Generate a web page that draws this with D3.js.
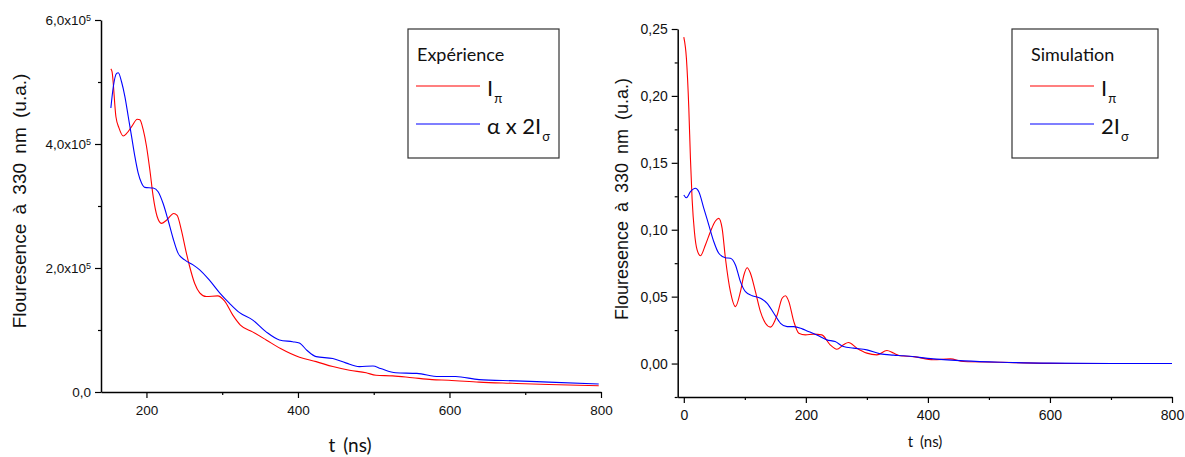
<!doctype html>
<html>
<head>
<meta charset="utf-8">
<script src="https://cdnjs.cloudflare.com/ajax/libs/d3/7.8.5/d3.min.js"></script>
<style>
  body { margin: 0; background: #fff; }
  svg { display: block; }
  .tick text { font-family: "Liberation Sans", Arial, sans-serif; fill: #111; }
  .title { font-family: Lato, "DejaVu Sans", sans-serif; fill: #111; }
  .ytitle { font-family: "Liberation Sans", Arial, sans-serif; fill: #111; }
</style>
</head>
<body>
<svg id="chart" width="1185" height="457"></svg>
<script>
// Expérience (values in units of 1e5), [t (ns), value]
var expPi = [[153,5.21],[154.5,5.17],[159.7,4.44],[163.7,4.26],[169.4,4.13],[173.8,4.17],[180.4,4.28],
  [187.9,4.40],[191.3,4.39],[195.7,4.23],[200.1,3.96],[204.5,3.58],[208.9,3.15],[214.1,2.83],
  [219.8,2.72],[226.4,2.77],[236,2.88],[240.5,2.85],[246.1,2.61],[251.8,2.29],[257.1,2.02],
  [263.7,1.75],[270.3,1.60],[279,1.54],[294,1.55],[303,1.47],[314,1.24],[324,1.08],[340,0.97],
  [358,0.84],[377,0.70],[402,0.56],[424,0.49],[446,0.41],[468,0.35],[490,0.31],[503,0.27],
  [525,0.26],[551,0.23],[577,0.20],[599,0.19],[639,0.16],[683,0.14],[731,0.12],[797,0.10]];
var expSigma = [[153,4.58],[156.2,4.92],[160.6,5.14],[162.8,5.15],[167.2,5.0],[171.6,4.76],[176,4.44],
  [180.4,4.12],[184.7,3.80],[189.1,3.53],[193.5,3.37],[197.9,3.30],[208.9,3.29],[215.4,3.23],
  [222,3.04],[228.6,2.77],[235.1,2.48],[241.7,2.24],[250.5,2.13],[261.5,2.05],[270.3,1.97],
  [283.4,1.80],[296.6,1.60],[309.7,1.43],[322.9,1.28],[340.4,1.16],[358,0.97],[375.5,0.84],
  [393,0.81],[401.8,0.79],[412,0.67],[424,0.57],[446,0.54],[463,0.47],[481,0.41],[499,0.42],
  [509,0.38],[529,0.31],[557,0.30],[586,0.25],[608,0.25],[639,0.20],[687,0.18],[731,0.16],[797,0.13]];

// Simulation, [t (ns), value]
var simPi = [[0,0.244],[4.3,0.228],[8.2,0.191],[10.9,0.153],[13.6,0.123],[17.4,0.0985],[21.8,0.0849],
  [27.3,0.0806],[35.4,0.0886],[43.6,0.0985],[51.8,0.1065],[57.3,0.1085],[62.8,0.101],[68.2,0.0787],
  [76.4,0.0537],[84.6,0.0425],[92.8,0.0537],[98.4,0.066],[103.8,0.0716],[109.2,0.0675],[117.4,0.0537],
  [125.6,0.0388],[133.8,0.0301],[142,0.0272],[153,0.0363],[161.1,0.0488],[166.6,0.0507],[172.1,0.0463],
  [180.3,0.0313],[188.5,0.0227],[199.3,0.0214],[212.5,0.022],[226.2,0.0214],[239.8,0.014],[250.8,0.0107],
  [261.6,0.014],[269.8,0.0157],[283.6,0.0115],[300,0.0078],[316.4,0.0065],[332.8,0.0097],[343.6,0.0078],
  [354.6,0.0058],[376.4,0.0052],[409,0.0028],[436.6,0.0035],[458.4,0.0015],[518.5,0.001],[573,0.0003],
  [628,0.0],[700,0.0],[800,0.0]];
var simSigma = [[0,0.126],[4.3,0.1239],[10.9,0.1284],[19,0.131],[24.6,0.1284],[32.8,0.116],[41,0.1035],
  [49.2,0.091],[57.3,0.0824],[68.2,0.0791],[76.4,0.0787],[84.6,0.0737],[92.8,0.0612],[101,0.0537],
  [112,0.0507],[125.6,0.0488],[136.6,0.045],[147.5,0.0376],[158.5,0.0301],[169.3,0.0276],[180.3,0.0276],
  [194,0.0259],[202.1,0.0244],[218,0.0214],[234.4,0.0177],[248,0.0164],[261.6,0.0127],[278,0.0115],
  [300,0.0102],[322,0.0072],[343.6,0.0063],[360,0.0058],[409,0.0035],[460,0.002],[520,0.001],
  [600,0.0003],[700,0.0],[800,0.0]];

var leftYTicks = [0, 2, 4, 6];
var leftYMinor = [1, 3, 5];
var leftXTicks = [200, 400, 600, 800];
var leftXMinor = [300, 500, 700];
var rightYTicks = [0, 0.05, 0.10, 0.15, 0.20, 0.25];
var rightYMinor = [-0.025, 0.025, 0.075, 0.125, 0.175, 0.225];
var rightXTicks = [0, 200, 400, 600, 800];
var rightXMinor = [100, 300, 500, 700];

var svg = d3.select("#chart");

function drawPanel(o) {
  var x = d3.scaleLinear().domain(o.xDomain).range(o.xRange);
  var y = d3.scaleLinear().domain(o.yDomain).range(o.yRange);
  var g = svg.append("g");

  // minor ticks first, then major with labels
  g.append("g").attr("transform", "translate(0," + o.yRange[0] + ")")
    .call(d3.axisBottom(x).tickValues(o.xMinor).tickSize(3).tickFormat(""))
    .call(a => a.select(".domain").remove());
  g.append("g").attr("transform", "translate(" + o.xRange[0] + ",0)")
    .call(d3.axisLeft(y).tickValues(o.yMinor).tickSize(3).tickFormat(""))
    .call(a => a.select(".domain").remove());

  var xa = g.append("g").attr("transform", "translate(0," + o.yRange[0] + ")")
    .call(d3.axisBottom(x).tickValues(o.xTicks).tickSize(6).tickSizeOuter(0).tickPadding(7));
  xa.selectAll("text").style("font-size", o.tickFont + "px");
  var ya = g.append("g").attr("transform", "translate(" + o.xRange[0] + ",0)")
    .call(d3.axisLeft(y).tickValues(o.yTicks).tickSize(6).tickSizeOuter(0).tickPadding(4).tickFormat(o.yFormat));
  ya.selectAll("text").style("font-size", o.tickFont + "px");
  if (o.yHtml) {
    ya.selectAll(".tick text").each(function(d) {
      var t = d3.select(this);
      if (d === 0) { t.text("0,0"); return; }
      t.text("");
      t.append("tspan").text(d3.format(".1f")(d).replace(".", ",") + "x10");
      t.append("tspan").attr("dy", "-0.45em").style("font-size", "9px").text("5");
    });
  }
  g.selectAll(".domain").attr("stroke", "#000").attr("stroke-width", 1.5);
  g.selectAll(".tick line").attr("stroke", "#000").attr("stroke-width", 1.2);

  var line = d3.line().x(d => x(d[0])).y(d => y(d[1])).curve(d3.curveMonotoneX);
  o.series.forEach(s => {
    g.append("path").datum(s.data).attr("d", line)
      .attr("fill", "none").attr("stroke", s.color).attr("stroke-width", 1.1);
  });

  // axis titles
  g.append("text").attr("class", "ytitle")
    .attr("transform", "translate(" + o.yTitleX + "," + o.yTitleY + ") rotate(-90)")
    .attr("text-anchor", "middle").style("font-size", o.yTitleFont + "px")
    .style("word-spacing", "4px")
    .text("Flouresence à 330 nm (u.a.)");
  g.append("text").attr("class", "title")
    .attr("x", o.xTitleX).attr("y", o.xTitleY)
    .attr("text-anchor", "middle").style("font-size", o.xTitleFont + "px")
    .style("word-spacing", "3px")
    .text("t (ns)");

  // legend
  var L = o.legend;
  g.append("rect").attr("x", L.x).attr("y", L.y).attr("width", L.w).attr("height", L.h)
    .attr("fill", "#fff").attr("stroke", "#333").attr("stroke-width", 1.2);
  g.append("text").attr("class", "title").attr("x", L.titleX).attr("y", L.y + 32)
    .style("font-size", "18px").text(L.title);
  o.series.forEach((s, i) => {
    var ly = L.y + 57 + i * 38;
    g.append("line").attr("x1", L.lineX).attr("x2", L.lineX + 64)
      .attr("y1", ly).attr("y2", ly).attr("stroke", s.color).attr("stroke-width", 1.2);
    var t = g.append("text").attr("class", "title").attr("x", L.lineX + 71).attr("y", ly + 10)
      .style("font-size", "22px");
    t.append("tspan").text(s.label);
    t.append("tspan").attr("dy", "0.55em").attr("dx", "1").style("font-size", "13px").text(s.sub);
  });
}

drawPanel({
  xDomain: [140, 800], xRange: [101, 601],
  yDomain: [0, 6], yRange: [392, 20],
  xTicks: leftXTicks, xMinor: leftXMinor, yTicks: leftYTicks, yMinor: leftYMinor,
  yFormat: d => d, yHtml: true, tickFont: 13.5,
  series: [
    {data: expPi, color: "#ff0000", label: "I", sub: "π"},
    {data: expSigma, color: "#0000ff", label: "α x 2I", sub: "σ"}
  ],
  yTitleX: 26, yTitleY: 201, yTitleFont: 19,
  xTitleX: 350, xTitleY: 452, xTitleFont: 19,
  legend: {x: 408, y: 29, w: 151, h: 129, title: "Expérience", titleX: 417, lineX: 416}
});

drawPanel({
  xDomain: [-10, 800], xRange: [677.7, 1172],
  yDomain: [-0.025, 0.25], yRange: [397, 29],
  xTicks: rightXTicks, xMinor: rightXMinor, yTicks: rightYTicks, yMinor: rightYMinor,
  yFormat: d => d3.format(".2f")(d).replace(".", ","), yHtml: false, tickFont: 14,
  series: [
    {data: simPi, color: "#ff0000", label: "I", sub: "π"},
    {data: simSigma, color: "#0000ff", label: "2I", sub: "σ"}
  ],
  yTitleX: 628, yTitleY: 199, yTitleFont: 18,
  xTitleX: 925, xTitleY: 447, xTitleFont: 15,
  legend: {x: 1012, y: 29, w: 146, h: 129, title: "Simulation", titleX: 1031, lineX: 1030}
});
</script>
</body>
</html>
